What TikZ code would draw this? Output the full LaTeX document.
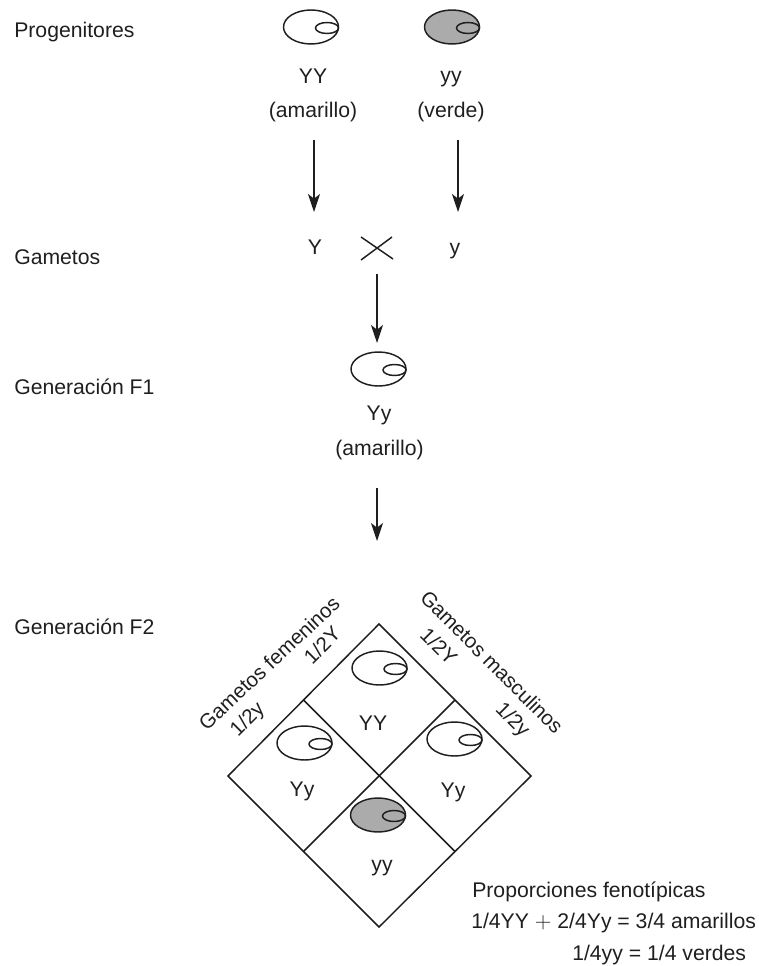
\documentclass[tikz,border=0pt]{standalone}
\usepackage{fontspec}
\setmainfont{Liberation Sans}
\usetikzlibrary{arrows.meta}
\definecolor{ink}{gray}{0.12}
\definecolor{seedgrey}{gray}{0.67}
\tikzset{
  x=0.75pt,y=-0.75pt,
  lab/.style={inner sep=0pt,font=\fontsize{15.9}{18}\selectfont,text=ink},
  rotlab/.style={inner sep=0pt,font=\fontsize{15.4}{18}\selectfont,text=ink},
  leftlab/.style={lab,anchor=west},
  arr/.style={draw=ink,line width=1.1pt,-{Stealth[length=13.5pt,width=9pt,inset=3.5pt]}},
  thin line/.style={draw=ink,line width=1.1pt},
  pics/seed/.style={code={
    \draw[thin line,fill=#1] (0,0) ellipse [x radius=27.5,y radius=17];
    \draw[thin line] (16,1) ellipse [x radius=11.5,y radius=5.5];
  }},
  pics/seed/.default=white
}
\begin{document}
\begin{tikzpicture}
\useasboundingbox (0,0) rectangle (759,966);
% left labels
\node[leftlab] (lp) at (14,32) {Progenitores};
\node[leftlab] (lg) at (14,257) {Gametos};
\node[leftlab] (lf1) at (14,387) {Generación F1};
\node[leftlab] (lf2) at (14,627) {Generación F2};
% parents
\pic at (311,27) {seed};
\pic at (452,27) {seed=seedgrey};
\node[lab] (yy1) at (313,76) {YY};
\node[lab] (am1) at (313,112) {(amarillo)};
\node[lab] (yy2) at (451,79) {yy};
\node[lab] (ve) at (451,112) {(verde)};
% gametes
\node[lab] (gY) at (315,247) {Y};
\node[lab] (gy) at (455,251) {y};
\coordinate (c1) at (361,237);
\coordinate (c2) at (393,259);
\coordinate (c3) at (392,237);
\coordinate (c4) at (361,260);
\draw[thin line] (c1) -- (c2);
\draw[thin line] (c3) -- (c4);
\coordinate (a1s) at (314,140);
\coordinate (a1e) at (314,212);
\coordinate (a2s) at (458,140);
\coordinate (a2e) at (458,212);
\coordinate (a3s) at (377,274);
\coordinate (a3e) at (377,343);
\coordinate (a4s) at (377,488);
\coordinate (a4e) at (377,541);
\draw[arr] (a1s) -- (a1e);
\draw[arr] (a2s) -- (a2e);
\draw[arr] (a3s) -- (a3e);
\draw[arr] (a4s) -- (a4e);
% F1
\pic at (378.5,369) {seed};
\node[lab] (f1y) at (379,415) {Yy};
\node[lab] (f1a) at (379.5,450) {(amarillo)};
% grid
\coordinate (T) at (379,624);
\coordinate (L) at (228,776);
\coordinate (R) at (531,776);
\coordinate (B) at (379,927);
\coordinate (TL) at (303.5,700);
\coordinate (TR) at (455,700);
\coordinate (BL) at (303.5,851.5);
\coordinate (BR) at (455,851.5);
\draw[thin line] (T) -- (R) -- (B) -- (L) -- cycle;
\draw[thin line] (TL) -- (BR);
\draw[thin line] (TR) -- (BL);
\pic at (379.5,668) {seed};
\pic at (304.5,743) {seed};
\pic at (454.5,739) {seed};
\pic at (378,815) {seed=seedgrey};
\node[lab] (cYY) at (373,723) {YY};
\node[lab] (cYyL) at (302,791) {Yy};
\node[lab] (cYyR) at (453,792) {Yy};
\node[lab] (cyy) at (382,868) {yy};
% rotated
\node[rotlab,rotate=43] (gf) at (269,663) {Gametos femeninos};
\node[rotlab,rotate=45] (f2y) at (248,720) {1/2y};
\node[rotlab,rotate=45] (f2Y) at (322,645) {1/2Y};
\node[rotlab,rotate=-45] (gm) at (492,662) {Gametos masculinos};
\node[rotlab,rotate=-45] (m2Y) at (439,646) {1/2Y};
\node[rotlab,rotate=-45] (m2y) at (512,720) {1/2y};
% proportions
\node[leftlab] (p1) at (472,892) {Proporciones fenotípicas};
\node[leftlab] (p2) at (471,923) {1/4YY $+$ 2/4Yy = 3/4 amarillos};
\node[leftlab] (p3) at (572,955) {1/4yy = 1/4 verdes};
\end{tikzpicture}
\end{document}
